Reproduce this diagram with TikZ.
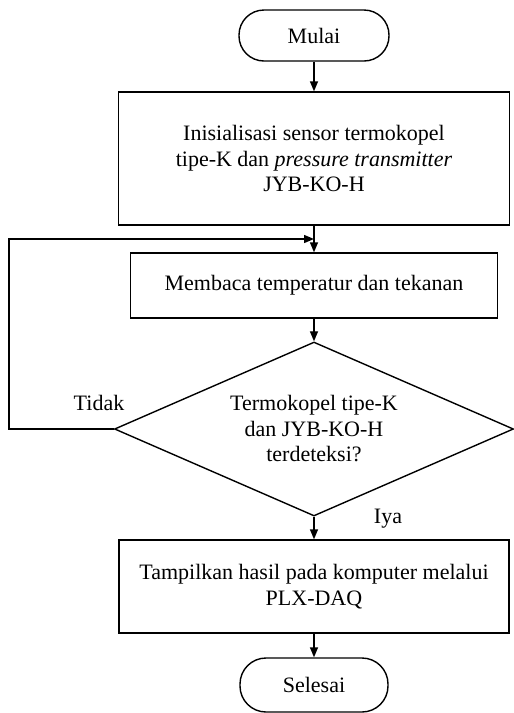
\documentclass[tikz,border=0pt]{standalone}
\usepackage{fontspec}
\setmainfont{Liberation Serif}
\usetikzlibrary{shapes.geometric,arrows.meta}
\begin{document}
\begin{tikzpicture}[x=1pt,y=-1pt,
  every node/.style={font=\fontsize{22}{25.5}\selectfont},
  terminal/.style={draw,line width=1.4pt,rectangle,rounded corners=25pt,inner sep=0pt},
  procbox/.style={draw,line width=1.4pt,rectangle,inner sep=0pt,align=center},
  decision/.style={draw,line width=1.4pt,diamond,inner sep=0pt,aspect=2.29,align=center,minimum width=399pt,minimum height=174pt},
  conn/.style={line width=1.4pt,-{Triangle[length=10pt,width=8pt]}},
  lbl/.style={inner sep=0pt}]
\useasboundingbox (0,0) rectangle (514,713);
\node[terminal,minimum width=150pt,minimum height=51pt] (start) at (314,35.5) {Mulai};
\node[procbox,minimum width=391pt,minimum height=133pt] (init) at (314,158.5)
  {Inisialisasi sensor termokopel\\tipe-K dan \textit{pressure transmitter}\\JYB-KO-H};
\node[procbox,minimum width=367pt,minimum height=65pt] (read) at (314,285.5) {Membaca temperatur dan tekanan};
\node[decision] (dec) at (314,429) {Termokopel tipe-K\\dan JYB-KO-H\\terdeteksi?};
\node[procbox,minimum width=390pt,minimum height=93pt] (show) at (314,586.5)
  {Tampilkan hasil pada komputer melalui\\PLX-DAQ};
\node[terminal,minimum width=148pt,minimum height=54pt,rounded corners=26pt] (end) at (314,685) {Selesai};
\coordinate (j) at (314,239);
\node[lbl] (tidak) at (99,403) {Tidak};
\node[lbl] (iya) at (388,519) {Iya};
\draw[conn] (start) -- (init);
\draw[conn] (init) -- (read);
\draw[conn] (read) -- (dec);
\draw[conn] (dec) -- (show);
\draw[conn] (show) -- (end);
\draw[conn] (dec.west) -- ++(-105,0) |- (j);
\end{tikzpicture}
\end{document}
